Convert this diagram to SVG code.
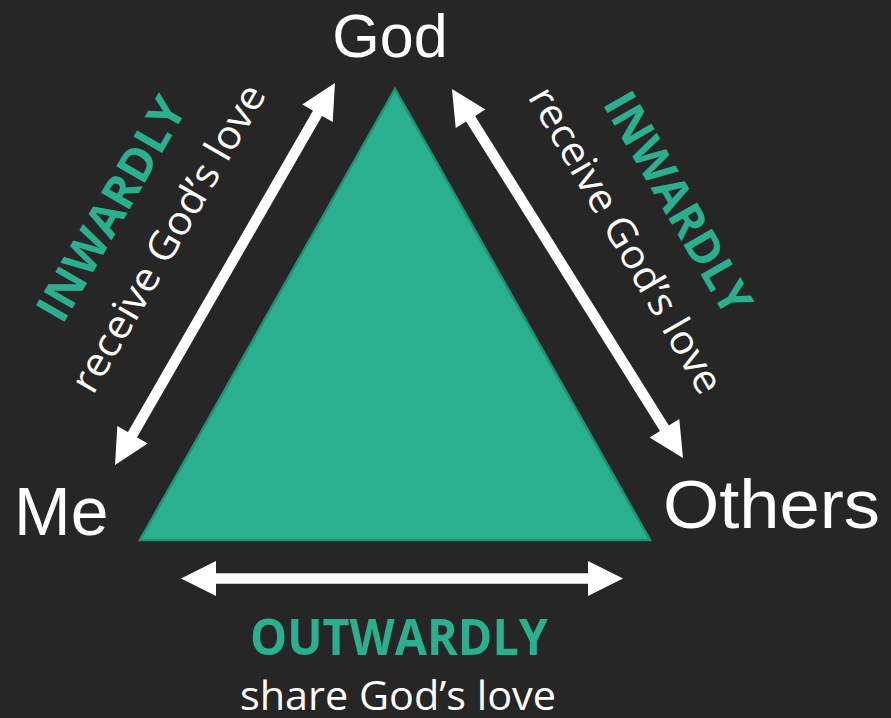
<svg xmlns="http://www.w3.org/2000/svg" width="891" height="718" viewBox="0 0 891 718">
<style>
.lbl{font-family:"Liberation Sans",Arial,sans-serif;fill:#ffffff;}
.sub{font-family:"Open Sans","Noto Sans",sans-serif;fill:#ffffff;font-size:40px;}
.hd{font-family:"Open Sans","Noto Sans",sans-serif;fill:#2ab08e;font-weight:bold;}
.conn{stroke:#ffffff;stroke-width:10.5;fill:none;marker-start:url(#ah);marker-end:url(#ah);}
</style>
<defs>
<marker id="ah" markerUnits="userSpaceOnUse" markerWidth="36" markerHeight="36" refX="2" refY="17.5" orient="auto-start-reverse" viewBox="0 0 36 35" overflow="visible">
<path d="M0,0 L35,17.5 L0,35 z" fill="#ffffff"/>
</marker>
</defs>
<rect x="0" y="0" width="891" height="718" fill="#262626"/>
<g id="triangle">
<polygon points="395,89 140,540 650,540" fill="#2ab08e" stroke="#1f9274" stroke-width="2.5" stroke-linejoin="miter"/>
</g>
<g id="connectors">
<line class="conn" x1="131.5" y1="436.4" x2="318.5" y2="111.6"/>
<line class="conn" x1="469.5" y1="117" x2="665.5" y2="430"/>
<line class="conn" x1="214" y1="578.5" x2="590" y2="578.5"/>
</g>
<g id="god">
<text class="lbl" x="390" y="57" font-size="61" text-anchor="middle">God</text>
</g>
<g id="me">
<text class="lbl" x="14" y="535" font-size="68">Me</text>
</g>
<g id="others">
<text class="lbl" x="663" y="528" font-size="68" textLength="217" lengthAdjust="spacingAndGlyphs">Others</text>
</g>
<g id="left-label">
<text class="hd" x="125" y="217" font-size="46" text-anchor="middle" textLength="250" lengthAdjust="spacingAndGlyphs" transform="rotate(-60 125 217)">INWARDLY</text>
<text class="sub" x="180" y="245" text-anchor="middle" textLength="348" lengthAdjust="spacingAndGlyphs" transform="rotate(-60 180 245)">receive God’s love</text>
</g>
<g id="right-label">
<text class="hd" x="664" y="211" font-size="46" text-anchor="middle" textLength="248" lengthAdjust="spacingAndGlyphs" transform="rotate(60 664 211)">INWARDLY</text>
<text class="sub" x="614" y="247" text-anchor="middle" textLength="347" lengthAdjust="spacingAndGlyphs" transform="rotate(60 614 247)">receive God’s love</text>
</g>
<g id="bottom-label">
<text class="hd" x="399" y="655" font-size="50" text-anchor="middle" textLength="298" lengthAdjust="spacingAndGlyphs">OUTWARDLY</text>
<text class="sub" x="398" y="710" text-anchor="middle" textLength="316" lengthAdjust="spacingAndGlyphs">share God’s love</text>
</g>
</svg>
